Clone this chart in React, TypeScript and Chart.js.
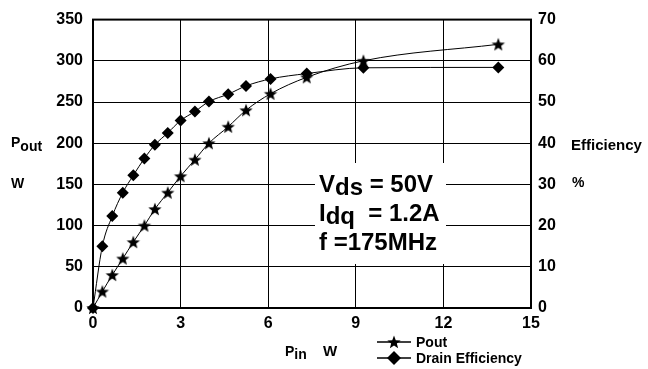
import React, { useEffect, useRef } from "react";
import { Chart, registerables } from "chart.js";

Chart.register(...registerables);

// ---- data ----
const pinW = [0, 0.32, 0.66, 1.02, 1.38, 1.76, 2.12, 2.56, 3.0, 3.49, 3.97, 4.63, 5.24, 6.08, 7.32, 9.26, 13.88];
const poutW = [0, 20, 40, 60, 80, 100, 120, 140, 160, 180, 200, 220, 240, 260, 280, 300, 320];
const drainEff = [0, 15, 22.3, 28, 32.2, 36.3, 39.6, 42.5, 45.5, 47.7, 50.1, 51.9, 53.9, 55.6, 56.9, 58.3, 58.4];
const xRange = [0, 15];
const xStep = 3;
const yLeftRange = [0, 350];
const yLeftStep = 50;
const yRightRange = [0, 70];
const yRightStep = 10;
const seriesNames = ["Pout", "Drain Efficiency"];
const conditionLines = [
  ["V", "ds", " = 50V"],
  ["I", "dq", "  = 1.2A"],
  ["f =175MHz", "", ""],
];

const FONT = "'Liberation Sans', Arial, sans-serif";

function makeStar(size: number, outer: number, inner: number) {
  const c = document.createElement("canvas");
  c.width = size;
  c.height = size;
  const g = c.getContext("2d")!;
  g.fillStyle = "#000";
  g.beginPath();
  for (let i = 0; i < 10; i++) {
    const r = i % 2 === 0 ? outer : inner;
    const a = -Math.PI / 2 + (i * Math.PI) / 5;
    const px = size / 2 + r * Math.cos(a);
    const py = size / 2 + 0.6 + r * Math.sin(a);
    if (i === 0) g.moveTo(px, py);
    else g.lineTo(px, py);
  }
  g.closePath();
  g.fill();
  return c;
}

function drawSub(ctx: CanvasRenderingContext2D, x: number, y: number, main: string, sub: string, rest: string, size: number, drop: number) {
  ctx.font = `bold ${size}px ${FONT}`;
  ctx.fillText(main, x, y);
  let w = ctx.measureText(main).width;
  if (sub) {
    ctx.fillText(sub, x + w, y + drop);
    w += ctx.measureText(sub).width;
  }
  if (rest) ctx.fillText(rest, x + w, y);
}

export default function App() {
  const ref = useRef<HTMLCanvasElement | null>(null);

  useEffect(() => {
    document.body.style.margin = "0";
    const canvas = ref.current!;
    const star = makeStar(16, 7, 3);
    const legendStar = makeStar(16, 7, 3);

    const overlay = {
      id: "overlay",
      beforeDatasetsDraw(chart: any) {
        const ctx = chart.ctx as CanvasRenderingContext2D;
        const a = chart.chartArea;
        ctx.save();
        // white box for the conditions
        ctx.fillStyle = "#fff";
        ctx.fillRect(315, 163, 131, 101);
        // frame
        ctx.strokeStyle = "#000";
        ctx.lineWidth = 2;
        ctx.strokeRect(a.left, a.top, a.right - a.left, a.bottom - a.top);
        // condition text
        ctx.fillStyle = "#000";
        ctx.textBaseline = "alphabetic";
        ctx.textAlign = "left";
        const baselines = [192, 221, 250];
        conditionLines.forEach((l, i) => drawSub(ctx, 319, baselines[i], l[0], l[1], l[2], 24, 3));
        ctx.restore();
      },
      afterDraw(chart: any) {
        const ctx = chart.ctx as CanvasRenderingContext2D;
        ctx.save();
        ctx.fillStyle = "#000";
        ctx.textAlign = "left";
        ctx.textBaseline = "alphabetic";
        // left axis title
        drawSub(ctx, 11, 147, "P", "out", "", 14, 4);
        ctx.font = `bold 14px ${FONT}`;
        ctx.fillText("W", 11, 188);
        // right axis title
        ctx.font = `bold 15px ${FONT}`;
        ctx.fillText("Efficiency", 571, 150);
        ctx.font = `bold 14px ${FONT}`;
        ctx.fillText("%", 572, 187);
        // x axis title
        drawSub(ctx, 285, 356, "P", "in", "", 14, 3);
        ctx.font = `bold 15px ${FONT}`;
        ctx.fillText("W", 323, 356);
        // legend
        ctx.strokeStyle = "#000";
        ctx.lineWidth = 1.5;
        ctx.beginPath();
        ctx.moveTo(377, 342);
        ctx.lineTo(411, 342);
        ctx.moveTo(377, 358);
        ctx.lineTo(411, 358);
        ctx.stroke();
        ctx.drawImage(legendStar, 394 - 8, 342 - 8);
        ctx.beginPath();
        ctx.moveTo(394 - 7, 358);
        ctx.lineTo(394, 358 - 7);
        ctx.lineTo(394 + 7, 358);
        ctx.lineTo(394, 358 + 7);
        ctx.closePath();
        ctx.fill();
        ctx.font = `bold 14px ${FONT}`;
        ctx.fillText(seriesNames[0], 416, 347);
        ctx.fillText(seriesNames[1], 416, 363);
        ctx.restore();
      },
    };

    const tickFont = { family: FONT, size: 16, weight: "bold" as const };

    const chart = new Chart(canvas, {
      type: "scatter",
      data: {
        datasets: [
          {
            label: seriesNames[0],
            data: pinW.map((x, i) => ({ x, y: poutW[i] })),
            yAxisID: "y",
            showLine: true,
            borderColor: "#000",
            borderWidth: 1,
            backgroundColor: "#000",
            pointStyle: star as any,
            cubicInterpolationMode: "monotone",
            clip: false as any,
          },
          {
            label: seriesNames[1],
            data: pinW.map((x, i) => ({ x, y: drainEff[i] })),
            yAxisID: "y2",
            showLine: true,
            borderColor: "#000",
            borderWidth: 1,
            backgroundColor: "#000",
            pointStyle: "rectRot",
            pointRadius: 6,
            pointBorderWidth: 0,
            cubicInterpolationMode: "monotone",
            clip: false as any,
          },
        ],
      },
      options: {
        responsive: false,
        animation: false,
        layout: { padding: { left: 0, right: 0, top: 16, bottom: 0 } },
        plugins: { legend: { display: false }, tooltip: { enabled: false } },
        scales: {
          x: {
            type: "linear",
            min: xRange[0],
            max: xRange[1],
            ticks: { stepSize: xStep, color: "#000", font: tickFont, padding: 6, maxRotation: 0 },
            grid: { color: "#000", lineWidth: 1, drawTicks: false },
            border: { display: false },
            afterFit: (s: any) => {
              s.height = 61;
            },
          },
          y: {
            type: "linear",
            position: "left",
            min: yLeftRange[0],
            max: yLeftRange[1],
            ticks: { stepSize: yLeftStep, color: "#000", font: tickFont, padding: 10 },
            grid: { color: "#000", lineWidth: 1, drawTicks: false },
            border: { display: false },
            afterFit: (s: any) => {
              s.width = 93;
            },
          },
          y2: {
            type: "linear",
            position: "right",
            min: yRightRange[0],
            max: yRightRange[1],
            ticks: { stepSize: yRightStep, color: "#000", font: tickFont, padding: 7 },
            grid: { display: false, drawTicks: false },
            border: { display: false },
            afterFit: (s: any) => {
              s.width = 117;
            },
          },
        },
      },
      plugins: [overlay],
    });
    return () => chart.destroy();
  }, []);

  return (
    <div style={{ width: 648, height: 369, background: "#fff" }}>
      <canvas ref={ref} width={648} height={369} style={{ display: "block" }} />
    </div>
  );
}
